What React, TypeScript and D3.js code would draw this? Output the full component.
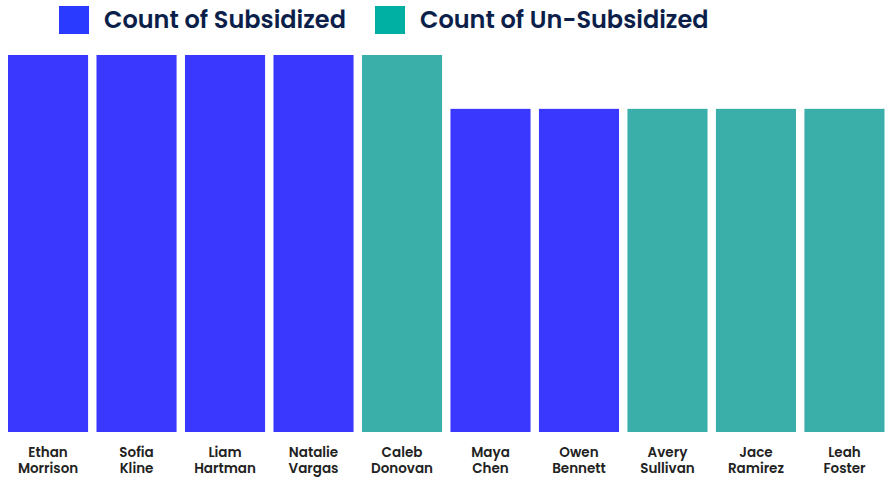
import * as d3 from "d3";

const people = [
  ["Ethan", "Morrison"],
  ["Sofia", "Kline"],
  ["Liam", "Hartman"],
  ["Natalie", "Vargas"],
  ["Caleb", "Donovan"],
  ["Maya", "Chen"],
  ["Owen", "Bennett"],
  ["Avery", "Sullivan"],
  ["Jace", "Ramirez"],
  ["Leah", "Foster"],
];
const subsidized = [7, 7, 7, 7, 0, 6, 6, 0, 0, 0];
const unSubsidized = [0, 0, 0, 0, 7, 0, 0, 6, 6, 6];
const seriesNames = ["Count of Subsidized", "Count of Un-Subsidized"];
const barColors = ["#3a37ff", "#3aaea8"];
const legendColors = ["#2a3bff", "#00b1a3"];

const W = 890;
const H = 479;
const font = "Poppins, Inter, 'Open Sans', sans-serif";

export default function App() {
  const names = people.map((p) => p.join(" "));
  const x = d3.scaleBand<string>().domain(names).range([8, 884.5]).paddingInner(0.095).paddingOuter(0);
  const y = d3.scaleLinear().domain([0, 7]).range([432, 55]);

  const rows = names.map((n, i) => ({ name: n, s: subsidized[i], u: unSubsidized[i] }));
  const stack = d3.stack<(typeof rows)[0]>().keys(["s", "u"]).value((d, k) => (d as any)[k]);
  const layers = stack(rows);

  const legendX = [59, 375];

  return (
    <svg width={W} height={H} style={{ position: "absolute", left: 0, top: 0 }}>
      <g>
        {seriesNames.map((s, i) => (
          <g key={s} transform={`translate(${legendX[i]},0)`}>
            <rect x={0} y={6} width={30} height={28} fill={legendColors[i]} />
            <text x={45} y={28} fontFamily={font} fontWeight={600} fontSize={24} fill="#0c1f4a">
              {s}
            </text>
          </g>
        ))}
      </g>
      <g>
        {layers.map((layer, li) =>
          layer.map((d) =>
            d[1] - d[0] > 0 ? (
              <rect
                key={`${li}-${d.data.name}`}
                x={x(d.data.name)}
                y={y(d[1])}
                width={x.bandwidth()}
                height={y(d[0]) - y(d[1])}
                fill={barColors[li]}
              />
            ) : null
          )
        )}
      </g>
      <g>
        {people.map((p, i) => {
          const cx = (x(names[i]) ?? 0) + x.bandwidth() / 2;
          return (
            <g key={names[i]} fontFamily={font} fontWeight={600} fontSize={13.5} fill="#222222" textAnchor="middle">
              <text x={cx} y={457}>{p[0]}</text>
              <text x={cx} y={473}>{p[1]}</text>
            </g>
          );
        })}
      </g>
    </svg>
  );
}
